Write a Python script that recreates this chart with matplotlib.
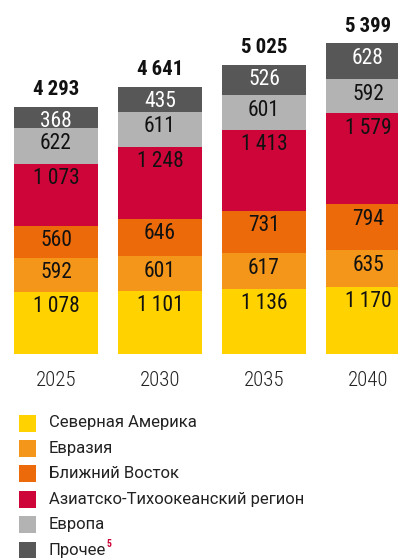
import matplotlib
matplotlib.use('Agg')
import matplotlib.pyplot as plt
from matplotlib.patches import Rectangle

# demand by region, per year
years = ['2025', '2030', '2035', '2040']
regions = ['Северная Америка', 'Евразия', 'Ближний Восток',
           'Азиатско-Тихоокеанский регион', 'Европа', 'Прочее']
north_america = [1078, 1101, 1136, 1170]
eurasia = [592, 601, 617, 635]
middle_east = [560, 646, 731, 794]
asia_pacific = [1073, 1248, 1413, 1579]
europe = [622, 611, 601, 592]
other = [368, 435, 526, 628]
totals = [4293, 4641, 5025, 5399]

series = [north_america, eurasia, middle_east, asia_pacific, europe, other]
colors = ['#FFD200', '#F39619', '#EC6A0A', '#CE0538', '#B3B3B3', '#575757']
text_colors = ['#111111'] * 5 + ['white']

plt.rcParams['font.family'] = ['Roboto Condensed', 'Roboto', 'DejaVu Sans']
legend_font = ['Roboto', 'DejaVu Sans']

W, H = 398, 558
fig = plt.figure(figsize=(W / 100, H / 100), dpi=100)

# bars: centres at 56 + 104*i px, baseline at 354 px from top
ax = fig.add_axes([4 / W, (H - 354) / H, 416 / W, 354 / H])
ax.set_xlim(-0.5, 3.5)
ax.set_ylim(0, 354 / 0.05757)
ax.axis('off')

def fmt(v):
    return f'{v:,}'.replace(',', '\u2009')

x = range(len(years))
bottom = [0] * len(years)
for vals, col, tcol in zip(series, colors, text_colors):
    ax.bar(x, vals, width=84 / 104, bottom=bottom, color=col, linewidth=0)
    for i, v in enumerate(vals):
        top = bottom[i] + v
        ax.annotate(fmt(v), (i, top), xytext=(0, -15), textcoords='offset pixels',
                    ha='center', va='center', fontsize=15.5, color=tcol)
    bottom = [b + v for b, v in zip(bottom, vals)]

for i, t in enumerate(totals):
    ax.annotate(fmt(t), (i, t), xytext=(0, 17), textcoords='offset pixels',
                ha='center', va='center', fontsize=15, fontweight='bold', color='#111111')
    ax.annotate(years[i], (i, 0), xytext=(0, -26), textcoords='offset pixels',
                ha='center', va='center', fontsize=15, fontweight='light',
                color='#222222')

# legend rows
renderer = fig.canvas.get_renderer()
for k, (name, col) in enumerate(zip(regions, colors)):
    yc = 423 + 25.4 * k
    fig.add_artist(Rectangle((19 / W, (H - yc - 8.5) / H), 17 / W, 17 / H,
                             transform=fig.transFigure, color=col, linewidth=0))
    t = fig.text(49 / W, (H - yc) / H, name, ha='left', va='center',
                 fontsize=12, color='#222222', family=legend_font)
    if name == 'Прочее':
        right = t.get_window_extent(renderer).x1
        fig.text(right / W, (H - yc + 6) / H, '5', ha='left', va='center',
                 fontsize=7, fontweight='bold', color='#CE0538')

fig.savefig('out.png', dpi=100)
